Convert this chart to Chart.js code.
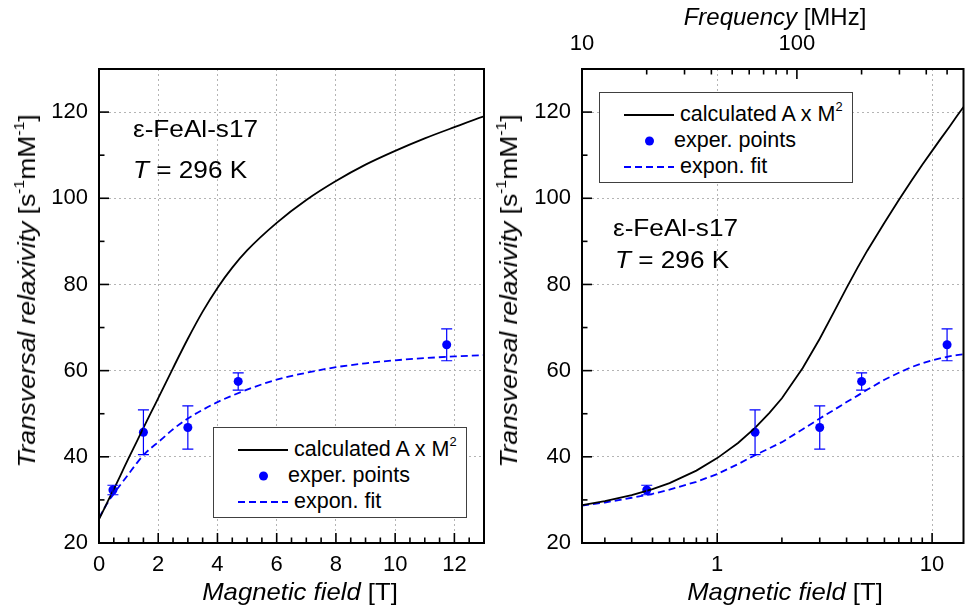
<!DOCTYPE html>
<html>
<head>
<meta charset="utf-8">
<title>Transversal relaxivity vs. magnetic field</title>
<script src="https://cdn.jsdelivr.net/npm/chart.js@4.4.1/dist/chart.umd.min.js"></script>
<style>
  html, body { margin: 0; padding: 0; background: #fff; }
  #wrap { position: relative; width: 968px; height: 612px; overflow: hidden;
          font-family: "Liberation Sans", Arial, sans-serif; color: #000; }
  canvas { position: absolute; top: 0; }
  #c-lin { left: 0; }
  #c-log { left: 490px; }
  .lbl { position: absolute; white-space: nowrap; line-height: 1; }
  .mid { transform: translate(-50%, -50%) scaleX(1.07); }
  .top { transform: translate(-50%, -50%); }
  .vert { transform: translate(-50%, -50%) rotate(-90deg) scaleX(1.1); }
  .ax { font-size: 24px; }
  .note { font-size: 24px; transform-origin: 0 50%; transform: translateY(-50%) scaleX(1.09); }
  sup { font-size: 0.6em; line-height: 0; vertical-align: 0; position: relative; top: -0.75em; }
  .legend { position: absolute; width: 254px; height: 91px; background: #fff;
            border: 1px solid #404040; box-sizing: border-box; }
  .legend .row { position: absolute; font-size: 21.5px; line-height: 1; white-space: nowrap; transform: translateY(-50%); }
  .legend svg { position: absolute; left: 0; top: 0; }
</style>
</head>
<body>
<div id="wrap">
  <canvas id="c-lin" width="490" height="612"></canvas>
  <canvas id="c-log" width="478" height="612"></canvas>

  <!-- axis titles -->
  <div class="lbl ax vert" style="left:27px; top:291px;"><i>Transversal relaxivity</i> [s<sup>-1</sup>mM<sup>-1</sup>]</div>
  <div class="lbl ax vert" style="left:509px; top:291px;"><i>Transversal relaxivity</i> [s<sup>-1</sup>mM<sup>-1</sup>]</div>
  <div class="lbl ax mid" style="left:300px; top:592px;"><i>Magnetic field</i> [T]</div>
  <div class="lbl ax mid" style="left:785px; top:592px;"><i>Magnetic field</i> [T]</div>
  <div class="lbl ax top" style="left:775px; top:17px;"><i>Frequency</i> [MHz]</div>

  <!-- sample notes -->
  <div class="lbl note" style="left:133px; top:129px;">&epsilon;-FeAl-s17</div>
  <div class="lbl note" style="left:133px; top:170px;"><i>T</i> = 296 K</div>
  <div class="lbl note" style="left:613px; top:228px;">&epsilon;-FeAl-s17</div>
  <div class="lbl note" style="left:615px; top:260px;"><i>T</i> = 296 K</div>

  <div class="legend" id="leg-lin" style="left:213px; top:427px;"></div>
  <div class="legend" id="leg-log" style="left:599px; top:92px;"></div>
</div>

<script>
// proton gyromagnetic ratio, MHz per tesla (top axis of the log panel)
const GAMMA = 42.58;

// model curves, sampled on a common field grid [T]
const fieldGrid = [0, 0.235, 0.3, 0.4, 0.5, 0.6, 0.8, 1, 1.25, 1.5, 1.75, 2, 2.5, 3, 3.5,
                   4, 4.5, 5, 6, 7, 8, 9, 10, 11, 12, 13, 14];
const calcR2 = [25.5, 28.8, 29.7, 31.1, 32.5, 33.9, 36.8, 39.7, 43.2, 46.7, 50.2, 53.6, 60.6, 67.4, 73.7,
                79.2, 83.9, 87.9, 94.3, 99.6, 104.0, 107.8, 111.0, 113.9, 116.5, 119.0, 121.2];
const fitR2 = [25.8, 28.7, 29.4, 30.5, 31.4, 32.4, 34.2, 36.0, 38.3, 40.4, 42.0, 43.4, 46.4, 48.9, 50.9,
               52.7, 54.2, 55.6, 57.9, 59.5, 60.8, 61.7, 62.4, 62.9, 63.3, 63.6, 63.8];

// measurements
const measField = [0.47, 1.5, 3.0, 4.7, 11.74];
const measR2 = [32.3, 45.7, 46.8, 57.5, 66.0];
const measErr = [1.1, 5.2, 5.0, 2.0, 3.7];

// tick labels
const yTicks = [20, 40, 60, 80, 100, 120];
const linFieldTicks = [0, 2, 4, 6, 8, 10, 12];
const logFieldTicks = [1, 10];
const freqTicks = [10, 100];

const FONT = { family: '"Liberation Sans", Arial, sans-serif', size: 22 };
const GRID = { color: '#b4b4b4', lineWidth: 1, drawTicks: false };
const BORDER = { display: false, dash: [2, 3] };

function pts(xs, ys, minX) {
  return xs.map((x, i) => ({ x, y: ys[i] })).filter(p => p.x >= minX);
}

function setTicks(values) {
  return scale => { scale.ticks = values.map(v => ({ value: v })); };
}

function logMinors(min, max) {
  const out = [];
  for (let d = 0.01; d <= max; d *= 10) {
    for (let k = 2; k <= 9; k++) {
      const v = +(k * d).toPrecision(3);
      if (v > min && v < max) out.push(v);
    }
  }
  return out;
}

// tick marks for each panel: axis id, side, major values, minor values
const linMinor = [];
for (let v = 0.5; v < 13; v += 0.5) if (v % 2 !== 0) linMinor.push(v);
const yMinor = [30, 50, 70, 90, 110];
const fMin = 10 / GAMMA, fMax = 14;

const linMarks = [
  ['x', 'bottom', linFieldTicks, linMinor],
  ['y', 'left', yTicks, yMinor],
];
const logMarks = [
  ['x', 'bottom', logFieldTicks, logMinors(fMin, fMax)],
  ['x2', 'top', freqTicks, logMinors(fMin * GAMMA, fMax * GAMMA)],
  ['y', 'left', yTicks, yMinor],
];

// error bars, inward ticks and the closed frame, all placed through the chart's scales
const overlay = {
  id: 'overlay',
  afterDatasetsDraw(chart) {
    const { ctx, chartArea: a, scales } = chart;
    ctx.save();
    ctx.strokeStyle = '#0000ff';
    ctx.lineWidth = 1.2;
    measField.forEach((f, i) => {
      const px = scales.x.getPixelForValue(f);
      const top = scales.y.getPixelForValue(measR2[i] + measErr[i]);
      const bot = scales.y.getPixelForValue(measR2[i] - measErr[i]);
      ctx.beginPath();
      ctx.moveTo(px, top); ctx.lineTo(px, bot);
      ctx.moveTo(px - 5.5, top); ctx.lineTo(px + 5.5, top);
      ctx.moveTo(px - 5.5, bot); ctx.lineTo(px + 5.5, bot);
      ctx.stroke();
    });

    const marks = chart.canvas.id === 'c-lin' ? linMarks : logMarks;
    ctx.strokeStyle = '#000';
    ctx.lineWidth = 1.6;
    marks.forEach(([id, side, major, minor]) => {
      const s = scales[id];
      const mark = (v, len) => {
        const p = s.getPixelForValue(v);
        ctx.beginPath();
        if (side === 'left') { ctx.moveTo(a.left, p); ctx.lineTo(a.left + len, p); }
        else if (side === 'top') { ctx.moveTo(p, a.top); ctx.lineTo(p, a.top + len); }
        else { ctx.moveTo(p, a.bottom); ctx.lineTo(p, a.bottom - len); }
        ctx.stroke();
      };
      major.forEach(v => mark(v, 10));
      minor.forEach(v => mark(v, 5.5));
    });

    ctx.lineWidth = 2;
    ctx.strokeRect(a.left, a.top, a.right - a.left, a.bottom - a.top);
    ctx.restore();
  }
};

function datasets(minX, smooth) {
  return [
    {
      label: 'calculated A x M2',
      data: pts(fieldGrid, calcR2, minX),
      showLine: true,
      borderColor: '#000',
      borderWidth: 1.8,
      pointRadius: 0,
      cubicInterpolationMode: smooth ? 'monotone' : 'default',
    },
    {
      label: 'exper. points',
      data: pts(measField, measR2, 0),
      pointRadius: 4.5,
      pointBackgroundColor: '#0000ff',
      pointBorderWidth: 0,
    },
    {
      label: 'expon. fit',
      data: pts(fieldGrid, fitR2, minX),
      showLine: true,
      borderColor: '#0000ff',
      borderWidth: 1.8,
      borderDash: [7, 4],
      pointRadius: 0,
      cubicInterpolationMode: smooth ? 'monotone' : 'default',
    },
  ];
}

const yScale = width => ({
  min: 20, max: 130,
  afterBuildTicks: setTicks(yTicks),
  afterFit: s => { s.width = width; },
  ticks: { font: FONT, color: '#000', padding: 11 },
  grid: GRID, border: BORDER,
});

const common = {
  responsive: false,
  animation: false,
  events: [],
  plugins: { legend: { display: false }, tooltip: { enabled: false } },
};

// linear field panel
new Chart(document.getElementById('c-lin'), {
  type: 'scatter',
  data: { datasets: datasets(0, true) },
  options: {
    ...common,
    layout: { padding: { top: 69, right: 6, left: 0, bottom: 0 } },
    scales: {
      x: {
        type: 'linear', min: 0, max: 13,
        afterBuildTicks: setTicks(linFieldTicks),
        afterFit: s => { s.height = 69; },
        ticks: { font: FONT, color: '#000', padding: 9 },
        grid: GRID, border: BORDER,
      },
      y: yScale(99),
    },
  },
  plugins: [overlay],
});

// logarithmic field panel with the Larmor frequency on top
new Chart(document.getElementById('c-log'), {
  type: 'scatter',
  data: { datasets: datasets(fMin - 1e-6, false) },
  options: {
    ...common,
    layout: { padding: { top: 0, right: 2, left: 0, bottom: 0 } },
    scales: {
      x: {
        type: 'logarithmic', position: 'bottom', min: fMin, max: fMax,
        afterBuildTicks: setTicks(logFieldTicks),
        afterFit: s => { s.height = 69; },
        ticks: { font: FONT, color: '#000', padding: 9, callback: v => String(v) },
        grid: GRID, border: BORDER,
      },
      x2: {
        type: 'logarithmic', position: 'top', axis: 'x', min: fMin * GAMMA, max: fMax * GAMMA,
        afterBuildTicks: setTicks(freqTicks),
        afterFit: s => { s.height = 69; },
        ticks: { font: FONT, color: '#000', padding: 12, callback: v => String(v) },
        grid: { display: false, drawTicks: false }, border: { display: false },
      },
      y: yScale(92),
    },
  },
  plugins: [overlay],
});

// legend boxes
function buildLegend(el) {
  const rows = [22, 48, 74];
  el.innerHTML = `
    <svg width="254" height="91">
      <line x1="24" y1="${rows[0]}" x2="74" y2="${rows[0]}" stroke="#000" stroke-width="2"/>
      <circle cx="49.5" cy="${rows[1]}" r="4.5" fill="#0000ff"/>
      <line x1="24" y1="${rows[2]}" x2="74" y2="${rows[2]}" stroke="#0000ff" stroke-width="2" stroke-dasharray="7 4"/>
    </svg>
    <div class="row" style="left:80px; top:${rows[0]}px;">calculated A x M<sup>2</sup></div>
    <div class="row" style="left:74px; top:${rows[1]}px;">exper. points</div>
    <div class="row" style="left:80px; top:${rows[2]}px;">expon. fit</div>`;
}
buildLegend(document.getElementById('leg-lin'));
buildLegend(document.getElementById('leg-log'));
</script>
</body>
</html>
